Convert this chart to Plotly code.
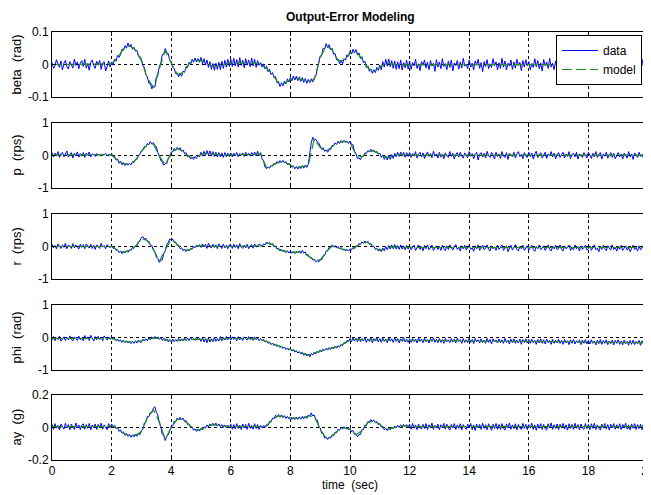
import numpy as np
import plotly.graph_objects as go

# ---------------- data ----------------
t_data = np.round(np.arange(401) * 0.05, 2)   # 0.00 .. 20.00 s, step 0.05
t_model = np.round(np.arange(101) * 0.2, 1)   # 0.0 .. 20.0 s, step 0.2

beta_data = [
    0.006, -0.012, -0.004, 0.015, 0.002, -0.009, 0.011, -0.016, 0.004, 0.013, -0.007, -0.014, 0.009, 0.001, -0.011, 0.017, -0.003, 0.008, -0.013, 0.005,
    0.012, -0.006, 0.016, -0.011, 0.003, -0.018, 0.007, 0.014, -0.004, -0.012, 0.01, -0.002, 0.013, -0.015, 0.005, 0.009, -0.02, -0.006, 0.011, -0.008,
    0.008, -0.002, 0.016, 0.01, 0.028, 0.022, 0.03, 0.048, 0.044, 0.058, 0.05, 0.066, 0.054, 0.062, 0.047, 0.053, 0.041, 0.044, 0.026, 0.025,
    0.016, -0.004, -0.008, -0.031, -0.038, -0.058, -0.058, -0.075, -0.066, -0.07, -0.045, -0.034, -0.006, 0.004, 0.03, 0.033, 0.049, 0.036, 0.034, 0.013,
    0.01, -0.009, -0.012, -0.028, -0.026, -0.038, -0.028, -0.036, -0.02, -0.024, -0.006, -0.009, 0.007, 0.001, 0.016, 0.007, 0.02, 0.008, 0.018, 0.007,
    0.022, 0.002, 0.018, -0.002, 0.014, -0.009, 0.009, -0.015, 0.003, -0.018, 0.004, -0.015, 0.007, -0.016, 0.01, -0.012, 0.013, -0.008, 0.016, -0.006,
    0.016, -0.006, 0.019, -0.004, 0.015, -0.008, 0.021, -0.003, 0.013, -0.01, 0.018, -0.002, 0.014, -0.007, 0.02, -0.004, 0.016, -0.009, 0.012, -0.003,
    0.006, -0.008, 0.002, -0.014, -0.005, -0.022, -0.014, -0.031, -0.025, -0.041, -0.037, -0.056, -0.052, -0.068, -0.056, -0.066, -0.051, -0.06, -0.044, -0.054,
    -0.04, -0.05, -0.035, -0.048, -0.036, -0.05, -0.038, -0.052, -0.04, -0.055, -0.043, -0.058, -0.046, -0.056, -0.044, -0.054, -0.04, -0.036, -0.01, 0.006,
    0.026, 0.029, 0.05, 0.048, 0.064, 0.052, 0.061, 0.045, 0.05, 0.032, 0.034, 0.014, 0.017, 0.002, 0.011, 0.002, 0.018, 0.013, 0.03, 0.025,
    0.041, 0.032, 0.047, 0.036, 0.046, 0.029, 0.036, 0.018, 0.024, 0.005, 0.01, -0.009, -0.004, -0.021, -0.014, -0.027, -0.016, -0.025, -0.009, -0.018,
    -0.002, -0.016, 0.009, -0.008, 0.016, -0.005, 0.017, -0.007, 0.012, -0.012, 0.011, -0.015, 0.008, -0.013, 0.014, -0.017, 0.006, -0.01, 0.013, -0.014,
    0.011, -0.015, 0.006, -0.004, 0.016, -0.012, 0.002, -0.019, 0.009, -0.002, 0.014, -0.011, 0.007, -0.016, 0.012, -0.005, 0.004, -0.021, 0.015, -0.008,
    0.008, -0.013, 0.018, -0.006, 0.003, -0.016, 0.011, -0.009, 0.014, -0.02, 0.005, -0.003, 0.012, -0.014, 0.008, -0.011, 0.019, -0.005, 0.001, -0.013,
    0.014, -0.008, 0.004, -0.017, 0.011, -0.002, 0.016, -0.012, 0.006, -0.022, 0.009, -0.006, 0.015, -0.013, 0.002, -0.009, 0.018, -0.004, 0.008, -0.016,
    0.005, -0.012, 0.019, -0.008, 0.011, -0.017, 0.004, -0.005, 0.014, -0.015, 0.008, -0.011, 0.016, -0.003, 0.007, -0.019, 0.012, -0.008, 0.015, -0.004,
    0.009, -0.016, 0.003, -0.009, 0.018, -0.007, 0.012, -0.013, 0.005, -0.02, 0.015, -0.004, 0.008, -0.012, 0.019, -0.008, 0.004, -0.016, 0.011, -0.005,
    0.013, -0.009, 0.007, -0.017, 0.016, -0.003, 0.009, -0.014, 0.004, -0.011, 0.018, -0.007, 0.011, -0.015, 0.005, -0.008, 0.013, -0.019, 0.008, -0.004,
    0.012, -0.013, 0.005, -0.008, 0.015, -0.018, 0.009, -0.004, 0.016, -0.011, 0.003, -0.015, 0.019, -0.007, 0.008, -0.012, 0.014, -0.005, 0.004, -0.016,
    0.011, -0.007, 0.017, -0.012, 0.005, -0.016, 0.013, -0.003, 0.008, -0.019, 0.012, -0.009, 0.015, -0.005, 0.007, -0.013, 0.016, -0.008, 0.004, -0.011,
    0.003,
]
beta_model = [
    0.0, 0.0, 0.0, 0.0, 0.0, 0.0, 0.0, 0.0, 0.0, 0.0,
    0.002, 0.022, 0.048, 0.058, 0.045,
    0.012, -0.042, -0.07, -0.01, 0.043,
    0.005, -0.03, -0.025, 0.002, 0.013,
    0.012, 0.005, -0.006, -0.005, 0.0,
    0.005, 0.006, 0.006, 0.006, 0.004,
    0.0, -0.012, -0.03, -0.058, -0.058,
    -0.046, -0.042, -0.046, -0.052, -0.046,
    0.02, 0.058, 0.045, 0.012, 0.012,
    0.035, 0.04, 0.018, -0.01, -0.022,
    -0.008, 0.004, 0.002, -0.002, -0.001,
    -0.001, 0.0, -0.001, -0.001, 0.0, -0.001, -0.001, 0.0, -0.001, -0.001,
    0.0, -0.001, -0.001, 0.0, -0.001, -0.001, 0.0, -0.001, -0.001, 0.0,
    -0.001, -0.001, 0.0, -0.001, -0.001, 0.0, -0.001, -0.001, 0.0, -0.001,
    -0.001, 0.0, -0.001, -0.001, 0.0, -0.001, -0.001, 0.0, -0.001, -0.001,
    0.0,
]

p_data = [
    0.09, -0.05, 0.07, -0.02, 0.12, -0.06, 0.05, 0.1, -0.04, 0.08, 0.14, -0.05, 0.03, 0.09, -0.08, 0.07, 0.0, 0.11, -0.05, 0.06,
    -0.02, 0.09, -0.06, 0.07, 0.02, 0.11, -0.04, 0.05, 0.03, -0.03, 0.06, 0.0, 0.05, -0.02, 0.04, 0.02, 0.06, -0.01, 0.04, 0.01,
    0.06, -0.04, -0.02, -0.14, -0.11, -0.24, -0.18, -0.29, -0.22, -0.31, -0.23, -0.3, -0.24, -0.29, -0.19, -0.22, -0.12, -0.12, 0.01, 0.03,
    0.15, 0.17, 0.28, 0.27, 0.37, 0.33, 0.43, 0.35, 0.4, 0.29, 0.28, 0.09, 0.01, -0.16, -0.19, -0.3, -0.25, -0.25, -0.09, -0.05,
    0.11, 0.11, 0.22, 0.16, 0.25, 0.18, 0.24, 0.13, 0.17, 0.05, 0.09, -0.04, 0.0, -0.11, -0.05, -0.12, -0.03, -0.09, 0.02, -0.04,
    0.1, -0.02, 0.13, 0.0, 0.15, 0.01, 0.14, -0.02, 0.12, -0.03, 0.1, -0.05, 0.09, -0.04, 0.08, -0.06, 0.09, -0.04, 0.07, -0.03,
    0.08, -0.04, 0.07, -0.01, 0.09, -0.04, 0.06, 0.01, 0.08, -0.03, 0.1, 0.0, 0.07, -0.02, 0.09, 0.01, 0.11, -0.01, 0.13, 0.0,
    0.09, -0.1, -0.17, -0.36, -0.41, -0.35, -0.39, -0.3, -0.33, -0.24, -0.27, -0.18, -0.24, -0.16, -0.22, -0.15, -0.23, -0.19, -0.28, -0.25,
    -0.27, -0.36, -0.32, -0.41, -0.34, -0.42, -0.33, -0.4, -0.31, -0.39, -0.3, -0.37, -0.27, 0.08, 0.39, 0.56, 0.47, 0.5, 0.42, 0.39,
    0.28, 0.19, 0.24, 0.13, 0.17, 0.1, 0.18, 0.18, 0.31, 0.3, 0.39, 0.34, 0.44, 0.37, 0.46, 0.39, 0.47, 0.4, 0.45, 0.37,
    0.44, 0.34, 0.33, 0.13, 0.05, -0.09, -0.07, -0.13, -0.02, -0.03, 0.08, 0.06, 0.15, 0.11, 0.19, 0.13, 0.17, 0.09, 0.13, 0.04,
    0.07, -0.06, 0.02, -0.12, -0.01, -0.14, 0.0, -0.12, 0.03, -0.09, 0.07, -0.04, 0.1, -0.03, 0.11, -0.02, 0.1, -0.06, 0.09, -0.03,
    0.09, -0.06, 0.06, -0.02, 0.12, -0.08, 0.04, 0.1, -0.05, 0.08, -0.09, 0.03, 0.11, -0.03, 0.06, -0.07, 0.13, -0.02, 0.05, -0.08,
    0.1, -0.05, 0.04, -0.1, 0.08, 0.0, -0.06, 0.12, -0.03, 0.07, -0.11, 0.03, 0.09, -0.05, 0.1, -0.01, -0.08, 0.08, 0.02, -0.07,
    0.12, -0.03, 0.06, -0.1, 0.03, 0.1, -0.14, 0.04, 0.09, -0.05, 0.07, -0.08, 0.13, -0.01, -0.06, 0.09, 0.01, -0.11, 0.1, -0.03,
    0.05, -0.09, 0.12, -0.01, -0.06, 0.09, -0.12, 0.07, 0.01, -0.04, 0.1, -0.08, 0.05, 0.12, -0.03, 0.03, -0.1, 0.09, -0.01, -0.06,
    0.1, -0.04, 0.07, -0.11, 0.05, 0.13, -0.06, 0.01, 0.09, -0.08, 0.03, 0.1, -0.09, 0.05, -0.01, 0.12, -0.05, 0.07, -0.1, 0.03,
    0.09, -0.06, 0.03, 0.1, -0.08, 0.05, -0.03, 0.12, -0.1, 0.03, 0.07, -0.04, 0.1, -0.11, 0.05, 0.01, -0.06, 0.09, -0.01, -0.08,
    0.1, -0.01, -0.09, 0.07, -0.04, 0.12, -0.06, 0.03, 0.09, -0.11, 0.05, -0.02, 0.1, -0.08, 0.03, 0.09, -0.06, 0.07, -0.1, 0.02,
    0.09, -0.04, 0.05, -0.11, 0.07, 0.01, -0.08, 0.12, -0.04, 0.05, -0.12, 0.08, -0.01, -0.06, 0.1, -0.03, 0.03, -0.09, 0.07, -0.04,
    0.02,
]
p_model = [
    0.02, 0.02, 0.02, 0.02, 0.02, 0.02, 0.02, 0.02, 0.02, 0.02,
    0.02, -0.15, -0.25, -0.27, -0.15,
    0.12, 0.34, 0.36, -0.02, -0.28,
    0.08, 0.21, 0.13, -0.04, -0.07,
    0.03, 0.08, 0.05, 0.02, 0.01,
    0.02, 0.02, 0.03, 0.03, 0.04,
    0.05, -0.38, -0.3, -0.21, -0.19,
    -0.3, -0.38, -0.35, -0.3, 0.5,
    0.25, 0.13, 0.28, 0.4, 0.43,
    0.4, 0.02, -0.05, 0.12, 0.14,
    0.04, -0.06, -0.04, 0.03, 0.03,
    0.01, 0.01, 0.01, 0.01, 0.01, 0.01, 0.01, 0.01, 0.01, 0.01,
    0.01, 0.01, 0.01, 0.01, 0.01, 0.01, 0.01, 0.01, 0.01, 0.01,
    0.01, 0.01, 0.01, 0.01, 0.01, 0.01, 0.01, 0.01, 0.01, 0.01,
    0.01, 0.01, 0.01, 0.01, 0.01, 0.01, 0.01, 0.01, 0.01, 0.01,
    0.01,
]

r_data = [
    0.07, -0.04, 0.03, -0.07, 0.08, -0.01, -0.06, 0.05, -0.03, 0.1, -0.07, 0.04, 0.01, -0.06, 0.09, -0.04, 0.05, -0.01, -0.08, 0.07,
    -0.03, 0.06, -0.07, 0.08, 0.0, -0.05, 0.07, -0.06, 0.04, -0.09, 0.05, 0.01, -0.06, 0.1, -0.02, 0.03, -0.07, 0.06, 0.0, -0.04,
    0.03, -0.06, -0.03, -0.12, -0.1, -0.19, -0.14, -0.22, -0.15, -0.2, -0.13, -0.18, -0.1, -0.12, -0.03, -0.06, 0.03, 0.02, 0.15, 0.17,
    0.28, 0.3, 0.23, 0.25, 0.15, 0.16, 0.05, 0.03, -0.11, -0.16, -0.33, -0.36, -0.49, -0.42, -0.41, -0.22, -0.13, 0.06, 0.12, 0.23,
    0.19, 0.23, 0.13, 0.14, 0.03, 0.04, -0.07, -0.04, -0.13, -0.09, -0.16, -0.09, -0.14, -0.06, -0.09, 0.0, -0.04, 0.04, 0.0, 0.06,
    -0.03, 0.08, -0.01, 0.07, -0.06, 0.1, 0.01, -0.05, 0.07, -0.03, 0.05, -0.07, 0.08, -0.01, -0.06, 0.07, -0.04, 0.04, -0.07, 0.05,
    0.04, -0.06, 0.07, -0.03, 0.05, -0.07, 0.09, -0.01, -0.06, 0.04, -0.04, 0.07, -0.07, 0.02, 0.06, -0.05, 0.08, -0.02, 0.03, 0.07,
    0.05, 0.0, 0.08, 0.05, 0.14, 0.08, 0.13, 0.06, 0.09, -0.01, 0.01, -0.08, -0.05, -0.14, -0.09, -0.16, -0.11, -0.19, -0.13, -0.2,
    -0.14, -0.21, -0.15, -0.22, -0.14, -0.2, -0.13, -0.21, -0.12, -0.2, -0.17, -0.27, -0.25, -0.35, -0.33, -0.42, -0.39, -0.47, -0.43, -0.48,
    -0.39, -0.41, -0.29, -0.28, -0.14, -0.13, -0.02, -0.04, 0.05, -0.02, 0.03, -0.05, 0.0, -0.08, -0.03, -0.11, -0.07, -0.14, -0.09, -0.14,
    -0.07, -0.11, -0.03, -0.07, 0.02, 0.0, 0.09, 0.06, 0.14, 0.1, 0.17, 0.11, 0.16, 0.07, 0.09, -0.01, 0.01, -0.09, -0.06, -0.14,
    -0.07, -0.16, -0.05, -0.14, 0.0, -0.1, 0.03, -0.08, 0.05, -0.07, 0.06, -0.08, 0.03, -0.09, 0.05, -0.08, 0.02, -0.1, 0.03, -0.08,
    0.02, -0.1, -0.03, 0.04, -0.12, -0.05, 0.05, -0.09, -0.01, -0.13, 0.03, -0.07, 0.05, -0.1, -0.03, 0.04, -0.12, -0.05, 0.02, -0.09,
    0.0, -0.12, 0.04, -0.07, -0.13, 0.02, -0.09, 0.05, -0.05, -0.11, 0.0, 0.06, -0.09, -0.03, -0.14, 0.02, -0.07, 0.04, -0.11, -0.03,
    0.04, -0.09, -0.04, -0.15, 0.02, -0.07, 0.05, -0.12, -0.03, 0.04, -0.1, -0.05, 0.05, -0.09, -0.14, 0.02, -0.07, -0.01, -0.12, 0.04,
    -0.09, -0.03, 0.05, -0.12, -0.05, 0.02, -0.16, -0.07, 0.04, -0.11, -0.03, 0.06, -0.09, -0.14, 0.0, -0.07, 0.04, -0.12, -0.05, 0.02,
    -0.11, -0.03, 0.04, -0.09, -0.15, 0.0, -0.07, 0.05, -0.1, -0.05, 0.02, -0.12, -0.03, 0.05, -0.09, -0.14, 0.0, -0.07, 0.04, -0.1,
    -0.05, 0.05, -0.09, -0.14, 0.02, -0.07, -0.03, 0.04, -0.12, -0.05, -0.1, 0.05, -0.07, 0.0, -0.14, 0.02, -0.09, -0.03, 0.04, -0.11,
    -0.07, 0.02, -0.12, -0.03, 0.05, -0.1, -0.05, -0.16, 0.0, -0.09, 0.04, -0.07, -0.13, 0.02, -0.05, -0.11, 0.05, -0.09, -0.03, -0.14,
    0.0, -0.09, 0.04, -0.12, -0.05, 0.02, -0.11, -0.03, -0.16, -0.07, 0.04, -0.09, -0.05, -0.14, 0.02, -0.1, -0.03, 0.04, -0.12, -0.05,
    -0.06,
]
r_model = [
    0.0, 0.0, 0.0, 0.0, 0.0, 0.0, 0.0, 0.0, 0.0, 0.0,
    0.0, -0.12, -0.18, -0.12, 0.0,
    0.25, 0.18, -0.08, -0.46, -0.1,
    0.22, 0.06, -0.1, -0.11, -0.01,
    0.02, 0.01, 0.0, 0.0, 0.0,
    0.0, 0.0, 0.0, 0.0, 0.01,
    0.02, 0.1, 0.06, -0.08, -0.14,
    -0.17, -0.18, -0.16, -0.28, -0.42,
    -0.42, -0.17, 0.02, -0.03, -0.1,
    -0.1, -0.01, 0.11, 0.13, -0.02,
    -0.12, -0.06, -0.01, -0.02, -0.03,
    -0.03, -0.03, -0.03, -0.03, -0.03, -0.03, -0.03, -0.03, -0.03, -0.03,
    -0.03, -0.03, -0.03, -0.03, -0.03, -0.03, -0.03, -0.03, -0.03, -0.03,
    -0.03, -0.03, -0.03, -0.03, -0.03, -0.03, -0.03, -0.03, -0.03, -0.03,
    -0.03, -0.03, -0.03, -0.03, -0.03, -0.03, -0.03, -0.03, -0.03, -0.03,
    -0.03,
]

phi_data = [
    -0.08, 0.03, -0.1, -0.01, -0.06, 0.04, -0.11, -0.03, 0.02, -0.09, 0.0, -0.07, 0.05, -0.05, -0.1, 0.02, -0.03, -0.09, 0.04, -0.07,
    -0.01, -0.1, 0.06, -0.05, 0.02, -0.09, 0.07, -0.03, -0.11, 0.03, -0.07, 0.04, -0.06, 0.01, -0.1, 0.05, -0.02, -0.08, 0.02, -0.06,
    0.02, -0.06, -0.02, -0.1, -0.05, -0.12, -0.07, -0.15, -0.09, -0.16, -0.1, -0.17, -0.11, -0.19, -0.12, -0.18, -0.1, -0.17, -0.08, -0.15,
    -0.14, -0.05, -0.11, -0.04, -0.1, -0.01, -0.07, 0.02, -0.05, 0.03, -0.04, 0.02, -0.06, 0.0, -0.09, -0.02, -0.11, -0.04, -0.13, -0.06,
    -0.14, -0.05, -0.13, -0.06, -0.12, -0.03, -0.11, -0.04, -0.1, -0.01, -0.09, -0.02, -0.1, 0.0, -0.08, -0.03, -0.09, 0.01, -0.07, -0.02,
    -0.12, 0.0, -0.14, -0.03, -0.16, -0.01, -0.14, -0.04, -0.13, 0.01, -0.12, -0.03, -0.11, 0.03, -0.1, 0.0, -0.08, 0.03, -0.07, 0.01,
    -0.08, 0.02, -0.06, 0.01, -0.1, 0.03, -0.07, -0.01, -0.09, 0.02, -0.04, -0.08, 0.03, -0.06, -0.01, -0.09, 0.02, -0.06, -0.02, -0.1,
    -0.03, -0.1, -0.06, -0.14, -0.1, -0.18, -0.14, -0.22, -0.17, -0.25, -0.2, -0.28, -0.23, -0.31, -0.26, -0.34, -0.29, -0.37, -0.32, -0.39,
    -0.34, -0.42, -0.37, -0.45, -0.4, -0.48, -0.43, -0.51, -0.46, -0.55, -0.49, -0.57, -0.51, -0.6, -0.49, -0.54, -0.45, -0.51, -0.42, -0.47,
    -0.38, -0.44, -0.35, -0.4, -0.33, -0.39, -0.31, -0.37, -0.29, -0.35, -0.27, -0.33, -0.25, -0.3, -0.21, -0.25, -0.15, -0.18, -0.09, -0.13,
    -0.03, -0.13, -0.01, -0.11, -0.02, -0.13, 0.0, -0.13, -0.03, -0.11, 0.0, -0.15, -0.04, -0.12, -0.01, -0.16, -0.03, -0.11, 0.0, -0.14,
    -0.03, -0.15, -0.02, -0.12, -0.05, -0.16, 0.0, -0.11, -0.04, -0.15, -0.01, -0.12, -0.03, -0.17, -0.04, -0.12, 0.0, -0.14, -0.05, -0.15,
    -0.04, -0.15, -0.03, -0.13, -0.06, -0.17, -0.01, -0.12, -0.05, -0.16, -0.02, -0.13, -0.07, -0.17, -0.03, -0.12, -0.01, -0.15, -0.05, -0.16,
    -0.03, -0.15, -0.06, -0.18, -0.02, -0.13, -0.07, -0.16, -0.03, -0.14, -0.05, -0.17, -0.02, -0.12, -0.06, -0.18, -0.03, -0.15, -0.07, -0.16,
    -0.02, -0.15, -0.06, -0.19, -0.03, -0.13, -0.07, -0.17, -0.04, -0.16, -0.08, -0.18, -0.03, -0.15, -0.06, -0.2, -0.04, -0.13, -0.07, -0.17,
    -0.04, -0.16, -0.07, -0.18, -0.03, -0.15, -0.08, -0.2, -0.05, -0.16, -0.04, -0.18, -0.08, -0.17, -0.05, -0.21, -0.06, -0.15, -0.04, -0.17,
    -0.06, -0.18, -0.05, -0.16, -0.09, -0.21, -0.06, -0.17, -0.04, -0.18, -0.07, -0.2, -0.05, -0.16, -0.09, -0.21, -0.06, -0.18, -0.08, -0.17,
    -0.05, -0.18, -0.09, -0.21, -0.06, -0.17, -0.1, -0.22, -0.07, -0.18, -0.06, -0.2, -0.1, -0.17, -0.07, -0.22, -0.08, -0.18, -0.06, -0.2,
    -0.09, -0.2, -0.07, -0.18, -0.11, -0.23, -0.08, -0.19, -0.06, -0.21, -0.09, -0.18, -0.07, -0.22, -0.11, -0.19, -0.08, -0.23, -0.09, -0.18,
    -0.07, -0.21, -0.11, -0.23, -0.08, -0.19, -0.12, -0.24, -0.09, -0.21, -0.08, -0.22, -0.12, -0.19, -0.09, -0.24, -0.1, -0.21, -0.08, -0.22,
    -0.15,
]
phi_model = [
    -0.03, -0.03, -0.03, -0.03, -0.03, -0.03, -0.03, -0.03, -0.03, -0.03,
    -0.03, -0.08, -0.12, -0.14, -0.14,
    -0.1, -0.06, -0.02, -0.03, -0.07,
    -0.1, -0.09, -0.07, -0.06, -0.05,
    -0.06, -0.08, -0.08, -0.06, -0.04,
    -0.03, -0.03, -0.03, -0.03, -0.04,
    -0.06, -0.13, -0.2, -0.26, -0.32,
    -0.37, -0.43, -0.49, -0.54, -0.48,
    -0.41, -0.36, -0.32, -0.28, -0.18,
    -0.08, -0.06, -0.07, -0.08, -0.08,
    -0.08, -0.08, -0.08, -0.08, -0.09,
    -0.09, -0.09, -0.09, -0.09, -0.1,
    -0.1, -0.1, -0.1, -0.1, -0.1,
    -0.1, -0.11, -0.11, -0.11, -0.11,
    -0.11, -0.12, -0.12, -0.12, -0.12,
    -0.12, -0.12, -0.13, -0.13, -0.13,
    -0.13, -0.13, -0.13, -0.14, -0.14,
    -0.14, -0.14, -0.14, -0.15, -0.15,
    -0.15, -0.15, -0.15, -0.16, -0.16,
    -0.16,
]

ay_data = [
    0.02, -0.012, 0.024, -0.004, 0.014, -0.015, 0.022, 0.001, -0.01, 0.026, -0.003, 0.018, -0.014, 0.021, 0.002, -0.012, 0.028, -0.002, 0.016, -0.013,
    0.013, 0.023, -0.011, 0.018, -0.005, 0.025, -0.014, 0.015, 0.0, 0.021, -0.012, 0.019, -0.003, 0.027, -0.01, 0.016, 0.001, -0.013, 0.024, -0.002,
    0.022, 0.003, 0.014, -0.008, 0.0, -0.024, -0.014, -0.035, -0.027, -0.048, -0.036, -0.055, -0.042, -0.06, -0.045, -0.058, -0.04, -0.054, -0.038, -0.045,
    -0.018, -0.01, 0.028, 0.033, 0.068, 0.066, 0.092, 0.09, 0.118, 0.128, 0.094, 0.078, 0.03, 0.006, -0.042, -0.052, -0.08, -0.054, -0.046, -0.012,
    0.006, 0.01, 0.038, 0.036, 0.058, 0.048, 0.063, 0.047, 0.058, 0.036, 0.043, 0.018, 0.022, -0.002, 0.004, -0.017, -0.008, -0.024, -0.011, -0.022,
    -0.004, -0.015, 0.005, -0.004, 0.016, 0.003, 0.022, 0.009, 0.026, 0.01, 0.027, 0.008, 0.022, 0.004, 0.018, 0.0, 0.016, -0.002, 0.014, -0.004,
    0.02, -0.011, 0.018, -0.008, 0.024, -0.006, 0.015, -0.013, 0.022, -0.004, 0.019, -0.012, 0.026, -0.005, 0.013, -0.01, 0.023, -0.006, 0.018, -0.012,
    0.013, -0.002, 0.012, 0.0, 0.017, 0.012, 0.037, 0.033, 0.058, 0.053, 0.076, 0.064, 0.08, 0.063, 0.078, 0.06, 0.073, 0.056, 0.069, 0.053,
    0.065, 0.05, 0.063, 0.049, 0.064, 0.05, 0.066, 0.051, 0.068, 0.053, 0.07, 0.056, 0.077, 0.069, 0.09, 0.071, 0.077, 0.049, 0.046, 0.008,
    -0.003, -0.036, -0.038, -0.065, -0.059, -0.074, -0.058, -0.066, -0.045, -0.051, -0.028, -0.033, -0.011, -0.018, 0.001, -0.01, 0.005, -0.009, 0.003, -0.015,
    -0.005, -0.025, -0.018, -0.042, -0.038, -0.058, -0.043, -0.043, -0.013, -0.013, 0.015, 0.012, 0.037, 0.03, 0.049, 0.035, 0.047, 0.029, 0.037, 0.017,
    0.025, 0.002, 0.007, -0.014, -0.005, -0.019, -0.003, -0.014, 0.003, -0.008, 0.009, -0.003, 0.013, 0.001, 0.017, 0.004, 0.019, 0.005, 0.018, 0.003,
    0.02, -0.011, 0.025, -0.005, 0.016, -0.014, 0.022, 0.0, -0.01, 0.019, -0.006, 0.024, -0.013, 0.017, -0.002, 0.027, -0.012, 0.014, -0.004, 0.021,
    -0.014, 0.017, -0.001, 0.025, -0.01, 0.02, -0.005, -0.016, 0.019, -0.003, 0.024, -0.012, 0.016, -0.006, 0.023, -0.015, 0.018, 0.0, -0.011, 0.021,
    -0.004, 0.025, -0.013, 0.016, -0.018, 0.021, -0.003, 0.019, -0.012, 0.027, -0.006, 0.017, -0.014, 0.023, -0.002, -0.017, 0.02, -0.007, 0.025, -0.011,
    0.019, -0.013, 0.024, -0.005, -0.016, 0.022, -0.002, 0.028, -0.011, 0.016, -0.007, 0.023, -0.015, 0.019, -0.004, -0.012, 0.025, -0.006, 0.02, -0.014,
    0.018, -0.004, 0.027, -0.012, 0.016, -0.017, 0.021, -0.005, 0.024, -0.013, 0.019, -0.007, -0.016, 0.023, -0.003, 0.028, -0.011, 0.017, -0.006, 0.022,
    -0.013, 0.02, -0.004, 0.025, -0.01, 0.017, -0.016, 0.023, -0.006, 0.019, -0.012, 0.026, -0.005, 0.018, -0.014, 0.022, -0.003, -0.011, 0.024, -0.007,
    0.019, -0.014, 0.023, -0.005, 0.027, -0.012, 0.016, -0.006, -0.015, 0.021, -0.004, 0.025, -0.01, 0.018, -0.016, 0.02, -0.003, 0.024, -0.011, 0.017,
    -0.006, 0.023, -0.013, 0.019, -0.004, 0.027, -0.01, 0.016, -0.015, 0.022, -0.005, 0.024, -0.012, 0.018, -0.007, 0.021, -0.014, 0.025, -0.004, 0.017,
    0.005,
]
ay_model = [
    0.005, 0.005, 0.005, 0.005, 0.005, 0.005, 0.005, 0.005, 0.005, 0.005,
    0.012, -0.008, -0.035, -0.05, -0.048,
    -0.025, 0.06, 0.11, 0.035, -0.072,
    0.0, 0.05, 0.05, 0.015, -0.015,
    -0.012, 0.008, 0.018, 0.014, 0.008,
    0.005, 0.005, 0.005, 0.005, 0.005,
    0.005, 0.01, 0.05, 0.072, 0.066,
    0.058, 0.056, 0.06, 0.07, 0.07,
    -0.01, -0.066, -0.052, -0.018, -0.002,
    -0.012, -0.045, -0.02, 0.03, 0.04,
    0.018, -0.012, -0.004, 0.006, 0.012,
    0.005, 0.005, 0.005, 0.005, 0.005, 0.005, 0.005, 0.005, 0.005, 0.005,
    0.005, 0.005, 0.005, 0.005, 0.005, 0.005, 0.005, 0.005, 0.005, 0.005,
    0.005, 0.005, 0.005, 0.005, 0.005, 0.005, 0.005, 0.005, 0.005, 0.005,
    0.005, 0.005, 0.005, 0.005, 0.005, 0.005, 0.005, 0.005, 0.005, 0.005,
    0.005,
]

y_labels = ["beta \u00a0(rad)", "p \u00a0(rps)", "r \u00a0(rps)", "phi \u00a0(rad)", "ay \u00a0(g)"]
y_ticks = [[-0.1, 0, 0.1], [-1, 0, 1], [-1, 0, 1], [-1, 0, 1], [-0.2, 0, 0.2]]
y_ticktext = [["-0.1", "0", "0.1"], ["-1", "0", "1"], ["-1", "0", "1"], ["-1", "0", "1"], ["-0.2", "0", "0.2"]]
x_ticks = [0, 2, 4, 6, 8, 10, 12, 14, 16, 18, 20]
x_ticktext = ["0", "2", "4", "6", "8", "10", "12", "14", "16", "18", "20"]

data_series = [beta_data, p_data, r_data, phi_data, ay_data]
model_series = [beta_model, p_model, r_model, phi_model, ay_model]

for s in data_series:
    assert len(s) == len(t_data), len(s)
for s in model_series:
    assert len(s) == len(t_model), len(s)

# ---------------- figure ----------------
# The page body has an 8px margin, so the figure is drawn 8px smaller and
# every screen position below is converted to figure pixels (screen - 8).
OFF = 8
W, H = 651 - OFF, 495 - OFF
ML = 52 - OFF
MT = 32 - OFF
MR = W - (648 - OFF)
MB = H - (460 - OFF)
plot_w = W - ML - MR
plot_h = H - MT - MB
panel_px = [(32, 97), (123, 188), (214, 279), (305, 370), (395, 460)]


def py(screen_y):
    return (H - MB - (screen_y - OFF)) / plot_h


def px(screen_x):
    return ((screen_x - OFF) - ML) / plot_w


FONT = "Liberation Sans, Arial, Helvetica, sans-serif"
BLUE = "#0000FF"
GREEN = "#1E901E"

fig = go.Figure()
layout = dict(
    width=W, height=H,
    margin=dict(l=ML, r=MR, t=MT, b=MB, pad=0, autoexpand=False),
    paper_bgcolor="white", plot_bgcolor="white",
    font=dict(family=FONT, size=12, color="black"),
    showlegend=True,
    legend=dict(
        x=px(642), xanchor="right",
        y=py(35), yanchor="top",
        bgcolor="white", bordercolor="black", borderwidth=1,
        font=dict(family=FONT, size=12, color="black"),
        itemwidth=36, tracegroupgap=0,
    ),
)

annotations = []
for i in range(5):
    n = "" if i == 0 else str(i + 1)
    top_px, bot_px = panel_px[i]
    dom = [py(bot_px), py(top_px)]
    common = dict(
        ticks="inside", ticklen=4, tickcolor="black", tickwidth=1,
        showline=True, linecolor="black", linewidth=1, mirror="ticks",
        showgrid=True, gridcolor="black", gridwidth=1, griddash="3px,3px",
        zeroline=False, tickfont=dict(size=12), automargin=False,
    )
    layout["xaxis" + n] = dict(
        domain=[0, 1], anchor="y" + n, range=[0, 20],
        tickvals=x_ticks, ticktext=x_ticktext, showticklabels=(i == 4),
        ticklabeloverflow="allow",
        **common,
    )
    layout["yaxis" + n] = dict(
        domain=dom, anchor="x" + n, range=[y_ticks[i][0], y_ticks[i][-1]],
        tickvals=y_ticks[i], ticktext=y_ticktext[i],
        ticklabeloverflow="allow",
        **common,
    )
    fig.add_trace(go.Scatter(
        x=t_data, y=data_series[i], mode="lines", name="data",
        line=dict(color=BLUE, width=1), showlegend=(i == 0),
        xaxis="x" + n, yaxis="y" + n,
    ))
    fig.add_trace(go.Scatter(
        x=t_model, y=model_series[i], mode="lines", name="model",
        line=dict(color=GREEN, width=1.2, dash="10px,4px"), showlegend=(i == 0),
        xaxis="x" + n, yaxis="y" + n,
    ))
    annotations.append(dict(
        text=y_labels[i], textangle=-90, showarrow=False,
        xref="paper", yref="paper",
        x=px(16), y=(dom[0] + dom[1]) / 2,
        xanchor="center", yanchor="middle",
        font=dict(family=FONT, size=13, color="black"),
    ))

annotations.append(dict(
    text="<b>Output-Error Modeling</b>", showarrow=False,
    xref="paper", yref="paper", x=0.5, y=py(17),
    xanchor="center", yanchor="middle",
    font=dict(family=FONT, size=12, color="black"),
))
annotations.append(dict(
    text="time \u00a0(sec)", showarrow=False,
    xref="paper", yref="paper", x=0.5, y=py(485),
    xanchor="center", yanchor="middle",
    font=dict(family=FONT, size=12, color="black"),
))
layout["annotations"] = annotations

fig.update_layout(**layout)
fig.write_html("out.html")
